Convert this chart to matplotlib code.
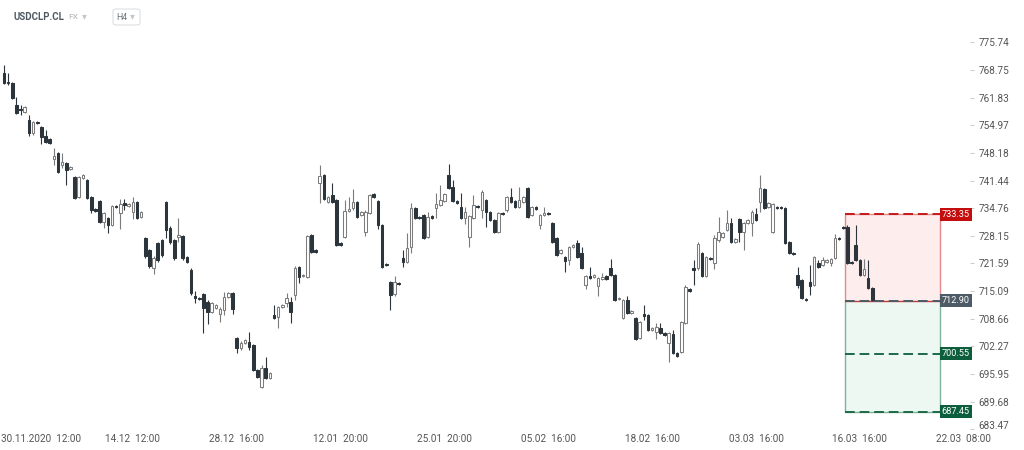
import matplotlib
matplotlib.use("Agg")
import matplotlib.pyplot as plt
from matplotlib.patches import FancyBboxPatch, Rectangle
from matplotlib.ticker import NullLocator, FixedLocator, FixedFormatter
from matplotlib.transforms import ScaledTranslation

plt.rcParams['font.family'] = ['Roboto', 'DejaVu Sans']

symbol = "USDCLP.CL"
market = "FX"
interval = "H4"

opens = [768.00, 765.75, 765.50, 760.00, 759.01, 758.27, 756.28, 753.08, 755.78, 754.55,
         752.34, 751.60, 746.69, 748.16, 745.23, 745.71, 744.25, 742.30, 737.48, 742.06,
         741.57, 737.48, 734.59, 736.52, 731.48, 732.44, 730.77, 735.31, 733.64, 736.03,
         735.31, 733.88, 736.27, 732.68, 727.65, 724.80, 720.56, 726.46, 727.18, 736.27,
         730.05, 727.18, 727.89, 728.13, 723.14, 720.09, 713.97, 713.51, 714.44, 712.58,
         710.25, 711.18, 709.79, 710.72, 713.74, 714.67, 704.26, 701.95, 703.10, 703.33,
         702.64, 696.91, 693.04, 697.37, 695.09, 709.55, 709.09, 711.41, 712.34, 712.58,
         714.21, 720.79, 718.68, 718.44, 728.37, 724.80, 740.86, 742.79, 736.27, 737.96,
         736.76, 726.46, 727.89, 734.11, 734.83, 736.27, 733.16, 729.09, 733.64, 738.20,
         736.52, 730.77, 721.50, 717.27, 714.44, 717.03, 722.90, 721.97, 725.51, 734.83,
         732.68, 733.16, 727.89, 732.92, 734.83, 735.55, 736.52, 742.79, 739.89, 736.52,
         735.07, 732.44, 727.89, 732.44, 735.31, 734.35, 736.76, 733.88, 731.96, 729.09,
         733.64, 734.35, 737.48, 736.52, 735.07, 736.27, 739.65, 733.16, 735.07, 730.77,
         733.16, 733.64, 731.24, 727.65, 724.09, 723.14, 722.43, 725.51, 726.46, 724.09,
         716.56, 718.68, 718.44, 716.33, 717.97, 718.68, 720.56, 718.91, 713.28, 708.86,
         713.04, 710.02, 708.86, 704.26, 709.79, 709.55, 706.10, 705.64, 706.56, 705.41,
         703.10, 705.18, 700.81, 701.03, 707.72, 715.62, 720.56, 720.56, 724.09, 718.68,
         722.90, 721.73, 727.18, 727.89, 729.57, 731.24, 726.70, 732.20, 729.09, 731.24,
         731.24, 733.40, 736.27, 739.41, 735.07, 729.09, 735.07, 735.07, 734.83, 726.70,
         724.09, 718.91, 717.74, 713.28, 717.27, 716.56, 721.73, 721.26, 721.97, 721.73,
         722.90, 727.65, 730.29, 730.29, 721.97, 725.99, 722.43, 718.91, 718.21, 715.86]

highs = [770.00, 768.00, 765.75, 761.98, 760.00, 759.75, 757.52, 756.03, 756.03, 754.80,
         753.82, 751.85, 749.40, 748.40, 748.16, 745.96, 744.98, 742.55, 742.55, 743.03,
         741.81, 737.72, 734.83, 736.76, 733.88, 732.68, 735.55, 735.55, 737.00, 737.00,
         736.03, 737.48, 736.52, 734.11, 727.89, 725.04, 723.38, 726.70, 727.41, 736.52,
         730.53, 727.41, 732.44, 728.37, 723.38, 720.56, 715.14, 713.74, 714.67, 713.04,
         712.58, 712.11, 711.41, 714.90, 714.90, 714.90, 704.49, 703.57, 704.03, 705.64,
         702.87, 697.14, 698.06, 699.89, 696.45, 711.88, 711.65, 712.11, 714.67, 713.74,
         721.03, 721.03, 719.15, 728.37, 728.61, 725.04, 745.23, 743.03, 737.72, 740.86,
         737.00, 726.70, 736.76, 737.48, 739.41, 736.52, 734.11, 734.35, 738.20, 738.45,
         736.76, 731.00, 721.73, 717.50, 718.68, 717.27, 724.80, 728.85, 736.03, 735.07,
         732.92, 733.40, 733.88, 733.16, 738.45, 740.38, 738.45, 745.47, 741.57, 736.76,
         738.45, 735.07, 733.16, 737.96, 735.55, 739.17, 737.00, 734.11, 732.20, 733.88,
         733.88, 737.72, 739.65, 736.76, 739.89, 737.72, 739.89, 735.31, 735.31, 733.40,
         735.07, 733.88, 731.48, 727.89, 725.04, 723.38, 725.75, 726.23, 727.18, 725.51,
         718.91, 720.79, 719.15, 718.44, 719.38, 718.91, 722.67, 719.15, 713.74, 713.28,
         713.97, 710.72, 709.09, 708.18, 711.88, 709.79, 706.79, 707.72, 707.72, 705.64,
         705.64, 706.10, 701.03, 708.18, 716.56, 715.86, 722.43, 726.70, 724.33, 723.38,
         723.14, 728.37, 732.68, 729.09, 734.35, 732.44, 727.65, 732.44, 731.48, 732.20,
         734.35, 734.83, 742.79, 739.65, 736.27, 736.03, 735.31, 735.31, 735.07, 726.94,
         724.33, 720.79, 717.97, 713.51, 721.26, 723.38, 722.43, 723.14, 722.67, 722.90,
         728.61, 727.89, 730.53, 730.77, 722.19, 730.77, 722.67, 722.67, 722.43, 716.09]

lows = [765.25, 765.00, 761.48, 757.77, 757.52, 758.02, 752.34, 752.59, 755.29, 750.38,
        750.62, 750.38, 745.23, 743.28, 744.50, 740.38, 744.01, 737.00, 737.24, 741.81,
        737.00, 733.64, 733.88, 731.24, 730.05, 728.85, 730.53, 734.83, 729.81, 734.35,
        735.07, 732.20, 732.20, 732.44, 722.90, 720.56, 719.15, 721.97, 723.14, 727.65,
        726.23, 722.43, 726.70, 722.43, 721.73, 714.21, 712.34, 713.04, 705.41, 707.48,
        710.02, 710.95, 707.95, 709.55, 713.51, 709.79, 700.81, 701.49, 702.87, 701.49,
        696.68, 695.09, 692.82, 694.86, 694.86, 708.64, 706.56, 711.18, 711.41, 707.72,
        713.04, 717.03, 718.44, 718.21, 724.09, 724.09, 736.03, 736.76, 736.03, 736.03,
        725.75, 725.75, 727.65, 733.88, 734.35, 732.44, 732.92, 728.13, 733.40, 737.24,
        729.81, 720.56, 721.03, 710.72, 713.97, 716.56, 720.79, 721.73, 724.09, 732.20,
        732.20, 727.41, 727.65, 732.20, 732.44, 735.31, 736.27, 739.41, 736.27, 735.79,
        732.20, 731.00, 725.51, 732.20, 734.83, 732.44, 730.29, 731.72, 728.85, 728.85,
        733.16, 733.88, 736.03, 734.83, 734.83, 736.03, 732.44, 732.92, 734.35, 729.81,
        732.92, 733.16, 726.46, 723.38, 723.85, 719.62, 721.26, 725.28, 722.90, 720.32,
        715.62, 717.97, 718.21, 713.97, 717.74, 717.74, 718.68, 712.81, 713.04, 708.64,
        709.79, 709.79, 703.80, 704.03, 708.41, 705.87, 705.87, 704.03, 705.18, 704.72,
        698.75, 700.58, 699.89, 700.81, 707.48, 714.90, 716.56, 720.09, 718.44, 718.44,
        722.43, 720.32, 726.70, 727.65, 729.33, 726.46, 726.46, 726.70, 724.80, 731.00,
        728.13, 731.72, 733.88, 734.59, 734.83, 728.85, 734.59, 734.59, 726.23, 723.85,
        723.62, 715.86, 713.28, 712.81, 714.21, 716.33, 720.56, 721.03, 721.73, 721.03,
        722.67, 727.18, 729.81, 721.50, 721.50, 722.19, 718.68, 718.68, 715.62, 712.81]

closes = [765.50, 765.50, 761.73, 758.02, 758.76, 759.50, 753.08, 755.78, 755.53, 752.10,
          750.87, 750.62, 747.42, 743.52, 745.96, 744.01, 744.74, 737.24, 742.30, 742.79,
          737.24, 734.35, 734.11, 731.48, 733.64, 730.77, 735.31, 735.07, 735.79, 735.55,
          735.79, 736.27, 732.44, 733.88, 723.38, 721.03, 722.90, 722.43, 723.62, 729.57,
          726.70, 722.90, 728.37, 722.90, 721.97, 714.67, 713.51, 713.28, 711.18, 710.25,
          712.34, 711.88, 710.95, 713.74, 714.67, 710.95, 701.95, 703.10, 703.80, 702.18,
          696.91, 695.31, 697.37, 695.09, 696.22, 708.86, 711.41, 711.88, 713.51, 710.25,
          720.56, 718.44, 718.91, 728.13, 724.33, 724.33, 742.55, 737.00, 737.48, 736.27,
          725.99, 725.99, 734.11, 734.59, 736.27, 732.68, 733.88, 733.88, 737.96, 737.48,
          730.77, 720.79, 721.26, 714.21, 717.27, 716.80, 721.97, 725.28, 734.83, 732.44,
          732.44, 727.65, 732.68, 732.44, 735.79, 736.76, 738.20, 739.65, 736.52, 736.03,
          732.44, 733.88, 732.92, 735.55, 735.07, 738.69, 733.88, 731.96, 729.09, 733.64,
          733.40, 737.48, 736.27, 735.07, 736.76, 737.48, 732.68, 735.07, 734.59, 733.16,
          733.64, 733.40, 726.70, 723.62, 724.80, 722.19, 725.51, 725.99, 723.14, 720.56,
          718.68, 718.21, 718.91, 718.21, 718.44, 717.97, 718.91, 713.04, 713.51, 713.04,
          710.02, 710.49, 704.03, 707.95, 709.32, 706.10, 706.56, 706.79, 705.41, 704.95,
          705.41, 700.81, 700.12, 707.95, 716.09, 715.14, 720.09, 726.23, 718.68, 723.14,
          722.67, 727.65, 729.09, 728.85, 731.24, 726.70, 727.41, 729.09, 731.24, 731.96,
          733.88, 731.96, 739.65, 734.83, 736.03, 735.79, 734.83, 734.83, 726.46, 724.09,
          723.85, 716.56, 713.51, 713.04, 716.33, 723.14, 720.79, 722.43, 722.43, 722.67,
          727.65, 727.41, 730.05, 721.73, 721.73, 722.43, 718.91, 720.32, 715.86, 712.93]

price_ticks = [775.74, 768.75, 761.83, 754.97, 748.18, 741.44, 734.76, 728.15,
               721.59, 715.09, 708.66, 702.27, 695.95, 689.68, 683.47]
price_tick_labels = ["775.74", "768.75", "761.83", "754.97", "748.18", "741.44", "734.76", "728.15",
                     "721.59", "715.09", "708.66", "702.27", "695.95", "689.68", "683.47"]

time_tick_labels = ["30.11.2020  12:00", "14.12  12:00", "28.12  16:00", "12.01  20:00",
                    "25.01  20:00", "05.02  16:00", "18.02  16:00", "03.03  16:00",
                    "16.03  16:00", "22.03  08:00"]
time_tick_index = [9, 31, 56, 81, 106, 131, 156, 181, 206, 231]

stop_level = 733.35
entry_level = 712.90
target_levels = [700.55, 687.45]

# ---------------------------------------------------------------- figure
W, H = 1024, 450
fig = plt.figure(figsize=(W / 100, H / 100), dpi=100)
fig.patch.set_facecolor("white")

ax_left, ax_right, ax_top, ax_bottom = 0, 970, 28, 432
ax = fig.add_axes([ax_left / W, 1 - ax_bottom / H, (ax_right - ax_left) / W, (ax_bottom - ax_top) / H])
ax.set_facecolor("white")
ax.set_yscale("log")
ax.set_ylim(682.88, 779.38)
ax.set_xlim(-0.96, 232.5)

dark = "#2b353b"
hollow_edge = "#7c7c7c"
body_w = 0.62

for i, (o, h, l, c) in enumerate(zip(opens, highs, lows, closes)):
    bear = c < o
    col = dark if bear else hollow_edge
    lo_b, hi_b = min(o, c), max(o, c)
    ax.vlines(i, l, lo_b, color=col, lw=0.8, zorder=3)
    ax.vlines(i, hi_b, h, color=col, lw=0.8, zorder=3)
    ax.add_patch(Rectangle((i - body_w / 2, lo_b), body_w, max(hi_b - lo_b, 0.05),
                           facecolor=dark if bear else "white",
                           edgecolor=col, lw=0.75, zorder=4))

# ---------------------------------------------------------------- trade box
bx0, bx1 = 202.4, 225.3
ax.add_patch(Rectangle((bx0, entry_level), bx1 - bx0, stop_level - entry_level,
                       facecolor="#fdeded", edgecolor="none", zorder=1))
ax.add_patch(Rectangle((bx0, target_levels[-1]), bx1 - bx0, entry_level - target_levels[-1],
                       facecolor="#eef8f3", edgecolor="none", zorder=1))
ax.vlines([bx0, bx1], entry_level, stop_level, color="#e58a8a", lw=1.0, zorder=2)
ax.vlines([bx0, bx1], target_levels[-1], entry_level, color="#7db39b", lw=1.0, zorder=2)
ax.hlines(stop_level, bx0, bx1, color="#e58a8a", lw=1.0, zorder=2)
ax.hlines(stop_level, bx0, bx1, color="#c41a1a", lw=1.4, linestyles=(0, (5, 2.5)), zorder=2)
ax.hlines(entry_level, bx0, bx1, color="#c83a3a", lw=1.0, zorder=2)
ax.hlines(entry_level, bx0, bx1, color="#4d5b66", lw=1.4, linestyles=(0, (5, 2.5)), zorder=2)
ax.hlines(target_levels[-1], bx0, bx1, color="#7db39b", lw=1.0, zorder=2)
for t in target_levels:
    ax.hlines(t, bx0, bx1, color="#1d6a4a", lw=1.4, linestyles=(0, (5, 2.5)), zorder=2)

def level_label(v, color):
    ax.text(bx1 + 0.35, v, f"{v:.2f}", color="white", fontsize=6.6, va="center", ha="left",
            bbox=dict(boxstyle="square,pad=0.22", fc=color, ec="none"), zorder=6, clip_on=False)

level_label(stop_level, "#c40d0d")
level_label(entry_level, "#4d5b66")
for t in target_levels:
    level_label(t, "#0d5e3c")

# ---------------------------------------------------------------- axes styling
for s in ax.spines.values():
    s.set_visible(False)
ax.yaxis.tick_right()
ax.yaxis.set_major_locator(FixedLocator(price_ticks))
ax.yaxis.set_major_formatter(FixedFormatter(price_tick_labels))
ax.yaxis.set_minor_locator(NullLocator())
ax.tick_params(axis="y", length=3, width=0.8, color="#cfcfcf", pad=3, labelsize=7.2, labelcolor="#555555")
ax.set_xticks(time_tick_index)
ax.set_xticklabels(time_tick_labels)
ax.tick_params(axis="x", length=0, pad=1.2, labelsize=7.2, labelcolor="#555555")

# lift the lowest price label a little so it clears the time labels (as in the reference)
lowest = ax.yaxis.get_major_ticks()[-1].label2
lowest.set_transform(lowest.get_transform() + ScaledTranslation(0, 4 / 100, fig.dpi_scale_trans))

# ---------------------------------------------------------------- header
fig.text(14 / W, 1 - 17 / H, symbol, fontsize=7, fontweight="bold", color="#4f5a64", va="center", ha="left")
fig.text(68 / W, 1 - 17 / H, market, fontsize=6, color="#a8b0b6", va="center", ha="left")
fig.text(82 / W, 1 - 16 / H, "▾", fontsize=7, color="#c3c8cc", va="center", ha="left")
fig.patches.append(FancyBboxPatch((113 / W, 1 - 25 / H), 27 / W, 16 / H,
                                  boxstyle="round,pad=0,rounding_size=0.004",
                                  transform=fig.transFigure, facecolor="white",
                                  edgecolor="#dcdfe2", lw=0.8))
fig.text(116 / W, 1 - 17 / H, interval, fontsize=6.3, color="#6b747b", va="center", ha="left")
fig.text(130 / W, 1 - 16 / H, "▾", fontsize=7, color="#c3c8cc", va="center", ha="left")

fig.savefig("out.png", dpi=100, facecolor="white")
